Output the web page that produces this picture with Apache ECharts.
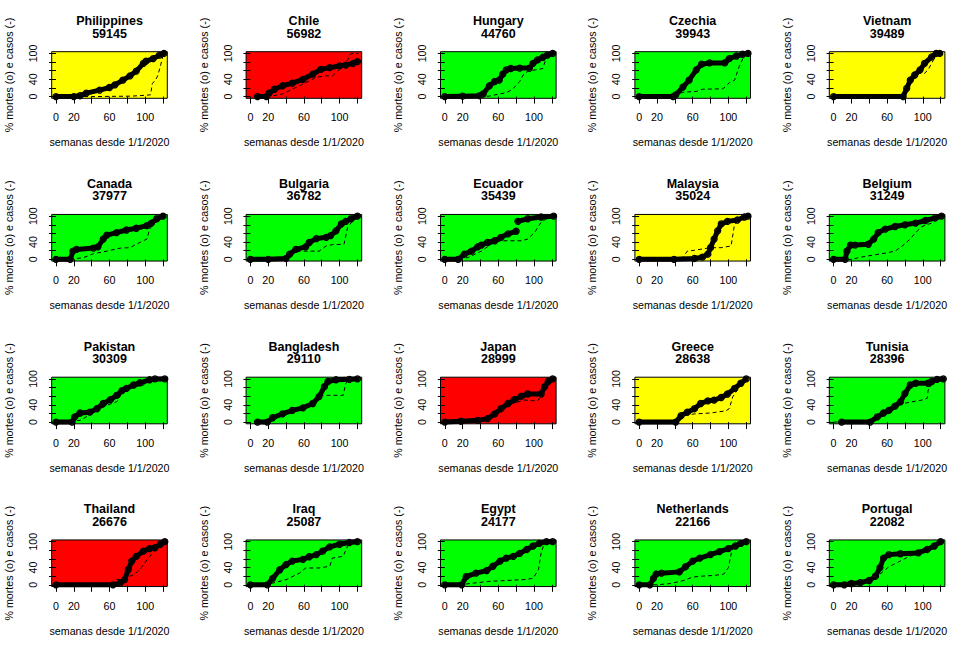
<!DOCTYPE html>
<html>
<head>
<meta charset="utf-8">
<script src="https://cdn.jsdelivr.net/npm/echarts@6/dist/echarts.min.js"></script>
<style>
html,body{margin:0;padding:0;background:#fff;}
#chart{width:972px;height:651px;}
</style>
</head>
<body>
<div id="chart"></div>
<script>
// ---- Data (week since 1/1/2020, cumulative %) ----
const countries = ['Philippines','Chile','Hungary','Czechia','Vietnam',
  'Canada','Bulgaria','Ecuador','Malaysia','Belgium',
  'Pakistan','Bangladesh','Japan','Greece','Tunisia',
  'Thailand','Iraq','Egypt','Netherlands','Portugal'];
const totals = [59145,56982,44760,39943,39489,
  37977,36782,35439,35024,31249,
  30309,29110,28999,28638,28396,
  26676,25087,24177,22166,22082];
const bgColors = ['#FFFF00','#FF0000','#00FF00','#00FF00','#FFFF00',
  '#00FF00','#00FF00','#00FF00','#FFFF00','#00FF00',
  '#00FF00','#00FF00','#FF0000','#FFFF00','#00FF00',
  '#FF0000','#00FF00','#00FF00','#00FF00','#00FF00'];
const xTicks = [0,20,40,60,80,100,120];
const xTickLabels = [0,20,60,100];
const yTicks = [0,20,40,60,80,100];
const yTickLabels = [0,40,100];

const deathsPhilippines = [[0,0],[20,0],[27,2],[34,8],[49,15],[60,21],[66,27],[75,38],[83,48],[90,59],[98,77],[101,82],[109,88],[116,96],[121,100]];
const casesPhilippines = [[0,0],[40,0],[85,1],[100,3],[106,4],[108,30],[112,40],[114,48],[117,70],[120,95],[121,100]];
const deathsChile = [[8,0],[18,0],[21,8],[27,17],[36,25],[47,31],[59,40],[70,52],[79,63],[89,67],[100,71],[107,73],[115,77],[120,81]];
const casesChile = [[10,0],[20,0],[36,6],[55,25],[74,45],[85,48],[92,48],[103,69],[109,85],[113,100],[121,100]];
const deathsHungary = [[0,0],[20,1],[39,2],[43,6],[50,25],[56,35],[61,38],[65,52],[69,62],[74,65],[84,66],[95,66],[99,77],[104,85],[110,91],[115,96],[121,100]];
const casesHungary = [[0,0],[40,0],[50,1],[61,6],[69,9],[76,17],[84,35],[89,54],[95,60],[102,62],[110,65],[114,92],[117,100],[121,100]];
const deathsCzechia = [[0,0],[38,0],[41,4],[49,22],[56,38],[64,62],[70,75],[79,78],[96,78],[101,88],[109,94],[116,98],[122,100]];
const casesCzechia = [[0,0],[38,0],[41,4],[49,10],[64,12],[71,17],[94,18],[101,32],[107,38],[112,69],[118,96],[122,100]];
const deathsVietnam = [[0,0],[78,0],[82,19],[86,38],[91,50],[97,62],[102,77],[110,92],[115,100],[119,100]];
const casesVietnam = [[0,0],[78,0],[84,30],[91,54],[102,54],[106,62],[112,85],[115,96],[119,100]];

const deathsCanada = [[0,0],[16,0],[19,19],[23,23],[42,26],[47,29],[53,47],[57,56],[68,62],[79,68],[90,72],[102,78],[107,84],[113,94],[120,100]];
const casesCanada = [[0,0],[16,0],[31,4],[42,13],[57,19],[72,26],[83,27],[90,35],[102,47],[105,70],[111,86],[117,94],[122,100]];
const deathsBulgaria = [[0,0],[20,0],[40,2],[44,12],[51,23],[62,29],[66,39],[74,48],[85,51],[90,55],[96,66],[102,82],[107,88],[113,94],[120,100]];
const casesBulgaria = [[0,0],[40,0],[44,4],[51,18],[62,19],[77,19],[85,31],[92,34],[105,35],[109,74],[115,90],[120,100]];
const deathsEcuador = [[0,0],[15,0],[22,12],[30,19],[37,29],[41,33],[48,39],[56,43],[63,51],[71,59],[80,65],[81,'-'],[82,88],[93,94],[108,98],[122,100]];
const casesEcuador = [[0,0],[11,0],[26,4],[41,19],[52,35],[63,43],[71,43],[86,43],[93,47],[101,63],[108,86],[114,94],[122,100]];
const deathsMalaysia = [[0,0],[39,0],[62,2],[71,5],[77,12],[80,27],[84,47],[88,66],[92,82],[99,88],[110,91],[118,98],[122,100]];
const casesMalaysia = [[0,0],[47,0],[54,19],[62,21],[80,27],[92,27],[103,31],[107,82],[112,90],[120,100]];
const deathsBelgium = [[0,0],[13,0],[15,19],[19,33],[24,33],[39,35],[45,47],[50,62],[58,70],[69,76],[80,80],[92,84],[103,90],[114,96],[121,100]];
const casesBelgium = [[0,0],[21,0],[28,4],[39,8],[54,13],[62,16],[69,19],[77,31],[86,47],[92,62],[99,76],[110,84],[121,100]];

const deathsPakistan = [[0,0],[18,0],[21,12],[27,21],[38,23],[46,31],[53,43],[61,52],[68,62],[74,73],[79,78],[87,86],[94,91],[105,98],[111,100],[122,100]];
const casesPakistan = [[0,0],[27,4],[57,39],[68,47],[75,70],[83,84],[90,82],[98,86],[105,99],[122,100]];
const deathsBangladesh = [[8,0],[19,0],[25,10],[36,19],[47,27],[59,33],[70,43],[77,59],[83,82],[87,94],[96,98],[111,99],[120,100]];
const casesBangladesh = [[8,0],[19,0],[25,8],[36,17],[47,25],[59,31],[70,43],[74,55],[77,62],[89,62],[104,62],[107,90],[111,98],[120,100]];
const deathsJapan = [[0,0],[18,2],[37,4],[48,8],[56,19],[63,31],[71,43],[78,52],[86,60],[93,65],[108,65],[112,82],[116,94],[121,100]];
const casesJapan = [[0,0],[20,2],[40,6],[48,8],[56,17],[71,40],[89,51],[104,49],[110,66],[116,94],[121,100]];
const deathsGreece = [[0,0],[41,0],[47,15],[54,23],[62,31],[69,43],[77,49],[84,51],[92,57],[99,65],[107,78],[114,90],[120,100]];
const casesGreece = [[0,0],[45,0],[50,15],[62,19],[80,21],[97,26],[101,31],[105,59],[110,74],[120,100]];
const deathsTunisia = [[9,0],[41,0],[49,12],[56,21],[62,27],[69,37],[75,47],[80,66],[86,86],[92,90],[106,90],[110,94],[116,99],[123,100]];
const casesTunisia = [[0,0],[41,0],[49,8],[62,20],[72,40],[78,43],[88,47],[99,51],[105,55],[106,74],[112,94],[123,100]];

const deathsThailand = [[0,0],[64,0],[72,4],[77,12],[81,35],[85,55],[90,66],[98,78],[105,84],[111,86],[117,94],[122,100]];
const casesThailand = [[0,0],[64,0],[68,12],[75,12],[81,19],[87,23],[94,35],[101,55],[109,76],[115,90],[122,100]];
const deathsIraq = [[0,0],[19,0],[25,15],[33,35],[40,47],[47,55],[59,59],[66,65],[74,70],[81,78],[89,88],[100,94],[111,98],[120,100]];
const casesIraq = [[0,0],[20,0],[25,4],[40,12],[55,27],[62,39],[77,39],[89,43],[92,62],[104,66],[109,90],[117,99],[120,100]];
const deathsEgypt = [[0,0],[19,0],[24,19],[35,27],[47,33],[54,43],[62,55],[69,62],[77,66],[84,73],[92,82],[99,90],[106,96],[114,100],[121,100]];
const casesEgypt = [[0,0],[17,0],[32,4],[50,8],[69,10],[88,12],[99,15],[105,35],[108,74],[112,98],[121,100]];
const deathsNetherlands = [[0,0],[12,0],[16,15],[19,25],[25,27],[45,30],[52,42],[60,55],[68,62],[80,70],[90,77],[100,84],[108,90],[114,96],[120,100]];
const casesNetherlands = [[0,0],[20,0],[35,3],[50,10],[60,18],[70,20],[85,22],[95,25],[100,40],[104,80],[108,95],[113,100],[120,100]];
const deathsPortugal = [[0,0],[12,0],[20,3],[30,5],[40,10],[47,20],[52,40],[56,62],[62,70],[75,72],[95,74],[105,82],[113,90],[120,100]];
const casesPortugal = [[0,0],[20,0],[35,5],[48,18],[55,30],[62,42],[72,52],[82,63],[92,72],[102,82],[110,90],[116,96],[120,100]];

const deathsAll = [deathsPhilippines,deathsChile,deathsHungary,deathsCzechia,deathsVietnam,
  deathsCanada,deathsBulgaria,deathsEcuador,deathsMalaysia,deathsBelgium,
  deathsPakistan,deathsBangladesh,deathsJapan,deathsGreece,deathsTunisia,
  deathsThailand,deathsIraq,deathsEgypt,deathsNetherlands,deathsPortugal];
const casesAll = [casesPhilippines,casesChile,casesHungary,casesCzechia,casesVietnam,
  casesCanada,casesBulgaria,casesEcuador,casesMalaysia,casesBelgium,
  casesPakistan,casesBangladesh,casesJapan,casesGreece,casesTunisia,
  casesThailand,casesIraq,casesEgypt,casesNetherlands,casesPortugal];

// ---- Layout ----
const FONT = '"Liberation Sans", Arial, sans-serif';
const cellW = 194.4, cellH = 162.75;
const plotL = 51.7, plotT = 51.7, plotW = 115.6, plotH = 46.6;
const AX = 10.7;
const TF = 12.5;

const grids = [], xAxes = [], yAxes = [], series = [], graphics = [];
countries.forEach((name, i) => {
  const col = i % 5, row = Math.floor(i / 5);
  const left = col * cellW + plotL, top = row * cellH + plotT;
  grids.push({left: left, top: top, width: plotW, height: plotH,
    show: true, backgroundColor: bgColors[i], borderColor: '#000', borderWidth: 1, containLabel: false});
  xAxes.push({type: 'value', gridIndex: i, min: -4.8, max: 124.8,
    name: 'semanas desde 1/1/2020', nameLocation: 'middle', nameGap: 38.5,
    nameTextStyle: {fontFamily: FONT, fontSize: AX, color: '#000'},
    axisLine: {show: false}, splitLine: {show: false},
    axisTick: {show: true, inside: false, length: 7, customValues: xTicks, lineStyle: {color: '#000', width: 1}},
    axisLabel: {show: true, margin: 13.5, customValues: xTickLabels, fontFamily: FONT, fontSize: AX, color: '#000'}});
  yAxes.push({type: 'value', gridIndex: i, min: -4, max: 104,
    name: '% mortes (o) e casos (-)', nameLocation: 'middle', nameGap: 37,
    nameTextStyle: {fontFamily: FONT, fontSize: AX, color: '#000'},
    axisLine: {show: false}, splitLine: {show: false},
    axisTick: {show: true, inside: false, length: 7, customValues: yTicks, lineStyle: {color: '#000', width: 1}},
    axisLabel: {show: true, margin: 13, rotate: 90, customValues: yTickLabels, fontFamily: FONT, fontSize: AX, color: '#000'}});
  series.push({type: 'line', xAxisIndex: i, yAxisIndex: i, data: deathsAll[i],
    showSymbol: true, symbol: 'circle', symbolSize: 6,
    itemStyle: {color: 'rgba(0,0,0,0)', borderColor: '#000', borderWidth: 1.3},
    lineStyle: {color: '#000', width: 5, cap: 'round', join: 'round'},
    animation: false, silent: true, clip: true, z: 2, connectNulls: false});
  series.push({type: 'line', xAxisIndex: i, yAxisIndex: i, data: casesAll[i],
    showSymbol: false, lineStyle: {color: '#000', width: 1, type: [4, 3]},
    animation: false, silent: true, clip: true, z: 3});
  const cx = left + plotW / 2;
  graphics.push({type: 'text', x: cx, y: row * cellH + 21.1, silent: true,
    style: {text: name, textAlign: 'center', textVerticalAlign: 'middle', fill: '#000',
      font: 'bold ' + TF + 'px ' + FONT}});
  graphics.push({type: 'text', x: cx, y: row * cellH + 33.7, silent: true,
    style: {text: String(totals[i]), textAlign: 'center', textVerticalAlign: 'middle', fill: '#000',
      font: 'bold ' + TF + 'px ' + FONT}});
});

const chart = echarts.init(document.getElementById('chart'), null, {renderer: 'svg'});
chart.setOption({
  backgroundColor: '#fff',
  animation: false,
  grid: grids, xAxis: xAxes, yAxis: yAxes, series: series, graphic: graphics
});
</script>
</body>
</html>
